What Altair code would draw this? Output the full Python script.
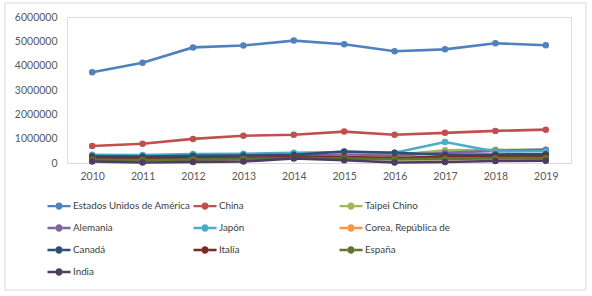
import altair as alt
import pandas as pd

years = ["2010", "2011", "2012", "2013", "2014", "2015", "2016", "2017", "2018", "2019"]
countries = ["Estados Unidos de América", "China", "Taipei Chino", "Alemania", "Japón",
             "Corea, República de", "Canadá", "Italia", "España", "India"]
colors = ["#4F81BD", "#C0504D", "#9BBB59", "#8064A2", "#4BACC6",
          "#F79646", "#2C4D75", "#772C2A", "#5F7530", "#4D3B62"]

us = [3730000, 4120000, 4750000, 4830000, 5030000, 4880000, 4590000, 4670000, 4920000, 4840000]
china = [700000, 790000, 990000, 1120000, 1160000, 1290000, 1160000, 1240000, 1320000, 1370000]
taipei = [180000, 190000, 210000, 230000, 280000, 350000, 330000, 520000, 540000, 530000]
alemania = [260000, 280000, 250000, 260000, 300000, 340000, 300000, 420000, 500000, 550000]
japon = [340000, 330000, 370000, 380000, 420000, 450000, 420000, 860000, 470000, 480000]
corea = [130000, 150000, 150000, 170000, 220000, 260000, 180000, 160000, 180000, 180000]
canada = [280000, 270000, 300000, 310000, 340000, 470000, 420000, 340000, 350000, 360000]
italia = [200000, 200000, 190000, 200000, 250000, 240000, 200000, 270000, 290000, 290000]
espana = [130000, 120000, 140000, 160000, 200000, 180000, 150000, 170000, 200000, 200000]
india = [60000, 20000, 40000, 60000, 190000, 110000, 20000, 40000, 80000, 90000]

series = [us, china, taipei, alemania, japon, corea, canada, italia, espana, india]
y_ticks = [0, 1000000, 2000000, 3000000, 4000000, 5000000, 6000000]

rows = []
for name, vals in zip(countries, series):
    for yr, v in zip(years, vals):
        rows.append({"Año": yr, "País": name, "Valor": v})
df = pd.DataFrame(rows)

FONT = "Lato"
legend_symbol = ("M-0.32,0 A0.32,0.32 0 1,0 0.32,0 A0.32,0.32 0 1,0 -0.32,0 Z "
                 "M-1,-0.1 L-0.3,-0.1 L-0.3,0.1 L-1,0.1 Z "
                 "M0.3,-0.1 L1,-0.1 L1,0.1 L0.3,0.1 Z")

color = alt.Color(
    "País:N",
    scale=alt.Scale(domain=countries, range=colors),
    legend=alt.Legend(
        title=None, orient="none", legendX=-20, legendY=177, direction="horizontal",
        columns=3, gridAlign="all", columnPadding=2, rowPadding=5,
        symbolType=legend_symbol, symbolSize=530, symbolStrokeWidth=0,
        labelFont=FONT, labelFontSize=9.8, labelColor="#404040", labelOffset=2,
        labelLimit=200,
    ),
)

x = alt.X("Año:O", sort=years, scale=alt.Scale(paddingOuter=0.5),
          axis=alt.Axis(title=None, labelAngle=0, labelFont=FONT, labelFontSize=10.5,
                        labelColor="#595959", domainColor="#D9D9D9", domainWidth=1,
                        ticks=False, labelPadding=8))
y = alt.Y("Valor:Q", scale=alt.Scale(domain=[0, 6000000], nice=False),
          axis=alt.Axis(title=None, values=y_ticks, format="d", grid=False, domain=False,
                        ticks=False, labelFont=FONT, labelFontSize=10.5,
                        labelColor="#595959", labelPadding=10))

base = alt.Chart(df).encode(x=x, y=y, color=color)

lines = base.mark_line(strokeWidth=2.6)
points = base.mark_point(filled=True, size=42, opacity=1)

border = alt.Chart(pd.DataFrame({"b": [0]})).mark_rect(
    fill="transparent", stroke="#D9D9D9", strokeWidth=1
).encode(x=alt.value(-62), x2=alt.value(519), y=alt.value(-14), y2=alt.value(273))

chart = alt.layer(border, lines, points).properties(
    width=504, height=146,
    padding={"left": 67, "top": 17, "right": 21, "bottom": 133},
    autosize=alt.AutoSizeParams(type="none"),
).configure_view(stroke=None).configure(background="white")

chart.save("out.html", embed_options={"renderer": "svg", "actions": False})
